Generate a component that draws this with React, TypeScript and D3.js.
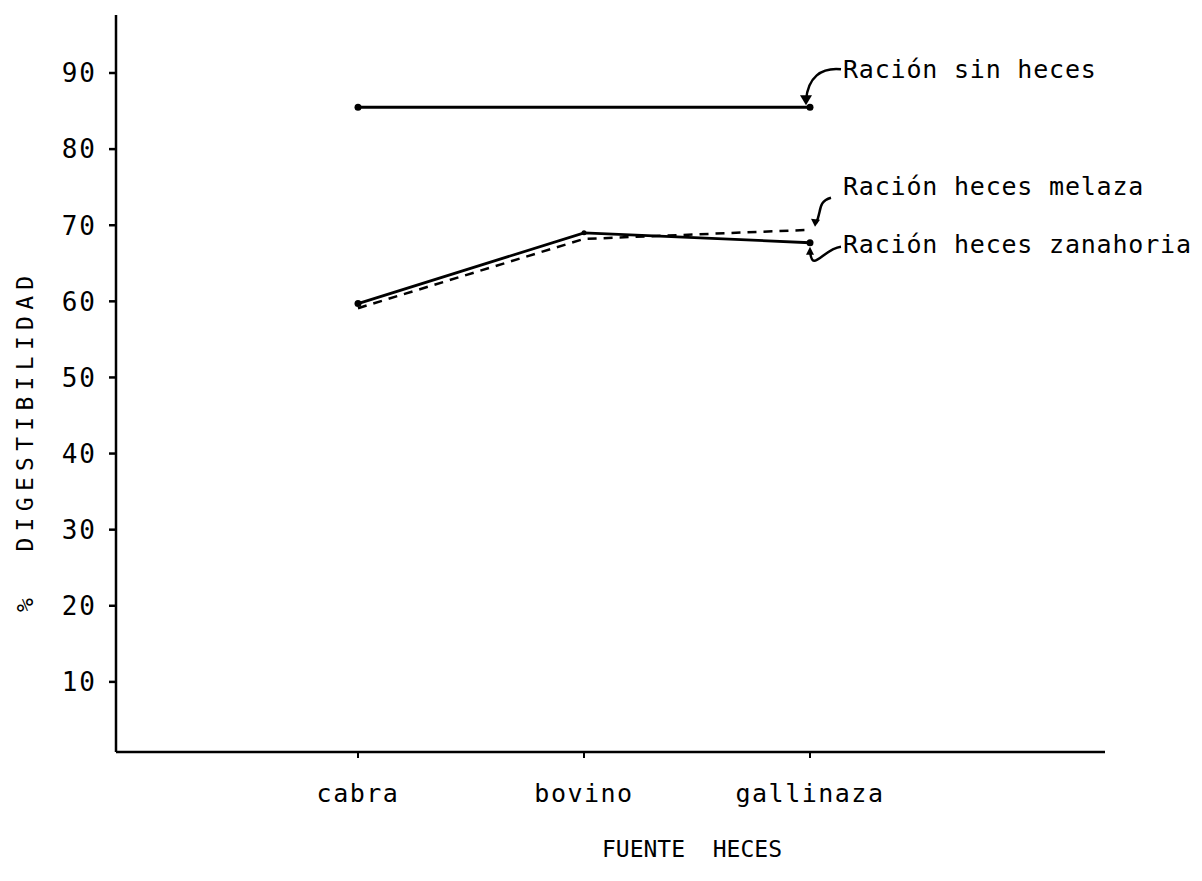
import { useEffect, useRef } from 'react';
import * as d3 from 'd3';

const categories = ['cabra', 'bovino', 'gallinaza'];
const sinHeces = [85.5, 85.5, 85.5];
const hecesZanahoria = [59.7, 69.0, 67.7];
const hecesMelaza = [59.1, 68.2, 69.4];
const yTicks = [10, 20, 30, 40, 50, 60, 70, 80, 90];
const seriesLabels = ['Ración sin heces', 'Ración heces melaza', 'Ración heces zanahoria'];

const FONT = '"DejaVu Sans Mono", monospace';

const App = () => {
  const svgRef = useRef<SVGSVGElement>(null);

  useEffect(() => {
    if (!svgRef.current) return;
    const svg = d3.select(svgRef.current);
    svg.selectAll('*').remove();

    const axisX = 116;
    const yScale = d3.scaleLinear().domain([0, 90]).range([758, 73]);
    const xScale = d3.scalePoint<string>().domain(categories).range([358, 810]);
    const axisY = 752;

    // axes
    svg.append('line')
      .attr('x1', axisX).attr('x2', axisX)
      .attr('y1', 15).attr('y2', axisY)
      .attr('stroke', '#000').attr('stroke-width', 2.5);
    svg.append('line')
      .attr('x1', axisX).attr('x2', 1105)
      .attr('y1', axisY).attr('y2', axisY)
      .attr('stroke', '#000').attr('stroke-width', 2.5);

    // y ticks
    const yt = svg.append('g');
    yt.selectAll('line').data(yTicks).enter().append('line')
      .attr('x1', axisX - 7).attr('x2', axisX)
      .attr('y1', (d) => yScale(d)).attr('y2', (d) => yScale(d))
      .attr('stroke', '#000').attr('stroke-width', 2.5);
    yt.selectAll('text').data(yTicks).enter().append('text')
      .attr('x', axisX - 19).attr('y', (d) => yScale(d))
      .attr('dy', '0.36em')
      .attr('text-anchor', 'end')
      .attr('font-family', FONT).attr('font-size', 26)
      .attr('letter-spacing', 2)
      .text((d) => d);

    // x ticks + labels
    const xt = svg.append('g');
    xt.selectAll('line').data(categories).enter().append('line')
      .attr('x1', (d) => xScale(d)!).attr('x2', (d) => xScale(d)!)
      .attr('y1', axisY).attr('y2', axisY + 6)
      .attr('stroke', '#000').attr('stroke-width', 2);
    xt.selectAll('text').data(categories).enter().append('text')
      .attr('x', (d) => xScale(d)!).attr('y', 802)
      .attr('text-anchor', 'middle')
      .attr('font-family', FONT).attr('font-size', 25)
      .attr('letter-spacing', 1.5)
      .text((d) => d);

    // axis titles
    svg.append('text')
      .attr('x', 692).attr('y', 857)
      .attr('text-anchor', 'middle')
      .attr('font-family', FONT).attr('font-size', 23)
      .attr('letter-spacing', 0)
      .style('white-space', 'pre')
      .text('FUENTE  HECES');
    svg.append('text')
      .attr('transform', 'translate(33,612) rotate(-90)')
      .attr('font-family', FONT).attr('font-size', 23)
      .attr('letter-spacing', 6.3)
      .style('white-space', 'pre')
      .text('%  DIGESTIBILIDAD');

    const line = d3.line<number>()
      .x((_, i) => xScale(categories[i])!)
      .y((d) => yScale(d));

    // series
    svg.append('path').datum(sinHeces)
      .attr('d', line).attr('fill', 'none')
      .attr('stroke', '#000').attr('stroke-width', 2.8);
    svg.append('path').datum(hecesZanahoria)
      .attr('d', line).attr('fill', 'none')
      .attr('stroke', '#000').attr('stroke-width', 2.8);
    svg.append('path').datum(hecesMelaza)
      .attr('d', line).attr('fill', 'none')
      .attr('stroke', '#000').attr('stroke-width', 2.5)
      .attr('stroke-dasharray', '9,7');

    // end dots
    const dots: [number, number][] = [
      [0, sinHeces[0]], [2, sinHeces[2]],
      [0, hecesZanahoria[0]], [1, hecesZanahoria[1]], [2, hecesZanahoria[2]],
    ];
    svg.selectAll('.dot').data(dots).enter().append('circle')
      .attr('class', 'dot')
      .attr('cx', (d) => xScale(categories[d[0]])!)
      .attr('cy', (d) => yScale(d[1]))
      .attr('r', (d) => (d[0] === 1 ? 2.5 : 3.5))
      .attr('fill', '#000');

    // labels with curved leader arrows
    const endX = xScale(categories[2])!;
    const labelX = 843;
    const labels = [
      { text: seriesLabels[0], y: yScale(sinHeces[2]) - 29 },
      { text: seriesLabels[1], y: yScale(hecesMelaza[2]) - 35 },
      { text: seriesLabels[2], y: yScale(hecesZanahoria[2]) + 10 },
    ];
    svg.selectAll('.lbl').data(labels).enter().append('text')
      .attr('class', 'lbl')
      .attr('x', labelX).attr('y', (d) => d.y)
      .attr('font-family', FONT).attr('font-size', 25)
      .attr('letter-spacing', 0.8)
      .text((d) => d.text);

    const arrows = svg.append('g').attr('fill', 'none').attr('stroke', '#000').attr('stroke-width', 2.5);
    // sin heces: from label down to line end
    const y0 = yScale(sinHeces[2]);
    arrows.append('path').attr('d',
      `M${labelX - 2},${y0 - 38} C${labelX - 22},${y0 - 40} ${endX - 2},${y0 - 30} ${endX - 4},${y0 - 7}`);
    svg.append('path').attr('d',
      `M${endX - 10},${y0 - 12} L${endX - 4},${y0 - 2} L${endX + 2},${y0 - 12} Z`).attr('fill', '#000');
    // melaza
    const y1 = yScale(hecesMelaza[2]);
    arrows.append('path').attr('d',
      `M${labelX - 12},${y1 - 32} C${labelX - 26},${y1 - 28} ${endX + 12},${y1 - 18} ${endX + 6},${y1 - 7}`);
    svg.append('path').attr('d',
      `M${endX + 1},${y1 - 11} L${endX + 5},${y1 - 3} L${endX + 10},${y1 - 10} Z`).attr('fill', '#000');
    // zanahoria
    const y2 = yScale(hecesZanahoria[2]);
    arrows.append('path').attr('d',
      `M${labelX - 2},${y2 + 4} C${labelX - 20},${y2 + 6} ${endX + 2},${y2 + 32} ${endX},${y2 + 8}`);
    svg.append('path').attr('d',
      `M${endX - 4},${y2 + 12} L${endX},${y2 + 4} L${endX + 4},${y2 + 12} Z`).attr('fill', '#000');
  }, []);

  return (
    <svg
      ref={svgRef}
      width={1202}
      height={881}
      style={{ position: 'absolute', left: 0, top: 0, background: '#fff' }}
    />
  );
};

export default App;
